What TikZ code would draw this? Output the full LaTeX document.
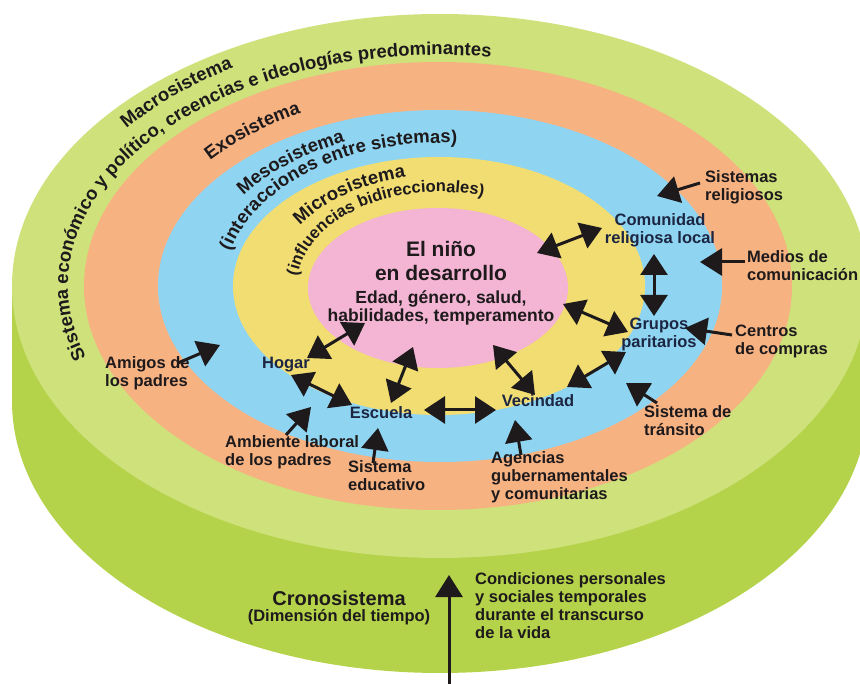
\documentclass[tikz,border=0pt]{standalone}
\usepackage{fontspec}
\setmainfont{Liberation Sans}
\usetikzlibrary{arrows.meta,decorations.text}
\definecolor{gtop}{RGB}{206,225,122}
\definecolor{gside}{RGB}{180,211,75}
\definecolor{orng}{RGB}{247,178,130}
\definecolor{blu}{RGB}{143,213,242}
\definecolor{yel}{RGB}{241,221,114}
\definecolor{pnk}{RGB}{243,181,211}
\definecolor{ink}{RGB}{30,26,28}
\definecolor{navy}{RGB}{28,38,66}
\newcommand\cfontA{\color{ink}\fontsize{18.5}{20}\selectfont\bfseries}
\newcommand\cfontB{\color{ink}\fontsize{16.5}{18}\selectfont\bfseries}
\begin{document}
\begin{tikzpicture}[x=1pt,y=1pt,
  lbl/.style={font=\fontsize{16.5}{18}\selectfont\bfseries, text=ink, inner sep=0pt, align=left},
  innerlbl/.style={lbl, text=navy, align=center},
  arr/.style={line width=3pt, draw=ink, -{Triangle[length=22pt,width=27pt]}},
  darr/.style={line width=3pt, draw=ink, {Triangle[length=21pt,width=27pt]}-{Triangle[length=21pt,width=27pt]}}]
\useasboundingbox (0,0) rectangle (860,-684);
% cylinder side
\fill[gside] (12,-286) -- (12,-401) arc[start angle=180,end angle=360,x radius=428pt,y radius=272pt] -- (868,-286) -- cycle;
% rings
\fill[gtop] (440,-286) ellipse[x radius=428pt,y radius=272pt];
\fill[orng] (438,-286) ellipse[x radius=354pt,y radius=224pt];
\fill[blu] (440,-286) ellipse[x radius=282pt,y radius=176pt];
\fill[yel] (439,-286) ellipse[x radius=206pt,y radius=129pt];
\fill[pnk] (438,-288) ellipse[x radius=130pt,y radius=80pt];
% curved texts
\path[decorate,decoration={text along path,text align=left,text={|\cfontA|Sistema económico y político, creencias e ideologías predominantes}}]
  (440,-286) ++({372*cos(198)},{231*sin(198)}) arc[start angle=198,end angle=20,x radius=372pt,y radius=231pt];
\path[decorate,decoration={text along path,text align=left,text={|\cfontA|Macrosistema}}]
  (440,-286) ++({398*cos(142)},{255*sin(142)}) arc[start angle=142,end angle=40,x radius=398pt,y radius=255pt];
\path[decorate,decoration={text along path,text align=left,text={|\cfontA|Exosistema}}]
  (440,-286) ++({300*cos(140)},{195*sin(140)}) arc[start angle=140,end angle=40,x radius=300pt,y radius=195pt];
\path[decorate,decoration={text along path,text align=left,text={|\cfontA|Mesosistema}}]
  (440,-286) ++({240*cos(145)},{157*sin(145)}) arc[start angle=145,end angle=40,x radius=240pt,y radius=157pt];
\path[decorate,decoration={text along path,text align=left,text={|\cfontA|(interacciones entre sistemas)}}]
  (440,-286) ++({216*cos(166)},{143*sin(166)}) arc[start angle=166,end angle=20,x radius=216pt,y radius=143pt];
\path[decorate,decoration={text along path,text align=left,text={|\cfontA|Microsistema}}]
  (440,-286) ++({167*cos(147)},{111*sin(147)}) arc[start angle=147,end angle=30,x radius=167pt,y radius=111pt];
\path[decorate,decoration={text along path,text align=left,text={|\cfontB|(influencias bidireccionales)}}]
  (440,-286) ++({143*cos(174)},{94*sin(174)}) arc[start angle=174,end angle=10,x radius=143pt,y radius=94pt];
% center
\node[lbl, align=center, font=\fontsize{21}{24}\selectfont\bfseries] (nino) at (441,-261) {El niño\\en desarrollo};
\node[lbl, align=center, font=\fontsize{17.5}{18}\selectfont\bfseries] (rasgos) at (441,-308) {Edad, género, salud,\\habilidades, temperamento};
% micro labels
\node[innerlbl] (comunidad) at (660,-230) {Comunidad\\religiosa local};
\node[innerlbl] (grupos) at (659,-334) {Grupos\\paritarios};
\node[innerlbl] (hogar) at (286,-365) {Hogar};
\node[innerlbl] (escuela) at (381,-413) {Escuela};
\node[innerlbl] (vecindad) at (538,-401) {Vecindad};
% exo labels
\node[lbl, anchor=west] (sistrel) at (705,-187.5) {Sistemas\\religiosos};
\node[lbl, anchor=west] (medios) at (747,-266) {Medios de\\comunicación};
\node[lbl, anchor=west] (centros) at (735,-341) {Centros\\de compras};
\node[lbl, anchor=west] (transito) at (644,-420.5) {Sistema de\\tránsito};
\node[lbl, anchor=west] (amigos) at (105,-373.5) {Amigos de\\los padres};
\node[lbl, anchor=west] (ambiente) at (225,-452) {Ambiente laboral\\de los padres};
\node[lbl, anchor=west] (educ) at (348,-475.5) {Sistema\\educativo};
\node[lbl, anchor=west] (agencias) at (491,-477) {Agencias\\gubernamentales\\y comunitarias};
% crono
\node[lbl, font=\fontsize{20}{22}\selectfont\bfseries] (crono) at (339,-598) {Cronosistema};
\node[lbl] (dimension) at (339,-617) {(Dimensión del tiempo)};
\node[lbl, anchor=west] (condic) at (475,-606) {Condiciones personales\\y sociales temporales\\durante el transcurso\\de la vida};
% coordinates of connectors
\coordinate (d1a) at (537,-253); \coordinate (d1b) at (602,-228);
\coordinate (d2a) at (654,-254); \coordinate (d2b) at (654,-316);
\coordinate (d3a) at (563,-304); \coordinate (d3b) at (628,-332);
\coordinate (d4a) at (567,-387); \coordinate (d4b) at (626,-352);
\coordinate (d5a) at (493,-345); \coordinate (d5b) at (535,-395);
\coordinate (d6a) at (424,-410); \coordinate (d6b) at (496,-410);
\coordinate (d7a) at (413,-347); \coordinate (d7b) at (391,-403);
\coordinate (d8a) at (291,-375); \coordinate (d8b) at (352,-405);
\coordinate (d9a) at (307,-358); \coordinate (d9b) at (365,-323);
\coordinate (s1a) at (700,-183); \coordinate (s1b) at (657,-196);
\coordinate (s2a) at (745,-262); \coordinate (s2b) at (700,-262);
\coordinate (s3a) at (732,-335); \coordinate (s3b) at (685,-328);
\coordinate (s4a) at (657,-403); \coordinate (s4b) at (626,-383);
\coordinate (s5a) at (521,-455); \coordinate (s5b) at (515,-420);
\coordinate (s6a) at (373,-463); \coordinate (s6b) at (378,-428);
\coordinate (s7a) at (286,-435); \coordinate (s7b) at (311,-407);
\coordinate (s8a) at (178,-363); \coordinate (s8b) at (220,-345);
\coordinate (s9a) at (449,-684); \coordinate (s9b) at (449,-575);
\foreach \i in {1,...,9} { \draw[darr] (d\i a) -- (d\i b); }
\foreach \i in {1,...,9} { \draw[arr] (s\i a) -- (s\i b); }
\end{tikzpicture}
\end{document}
